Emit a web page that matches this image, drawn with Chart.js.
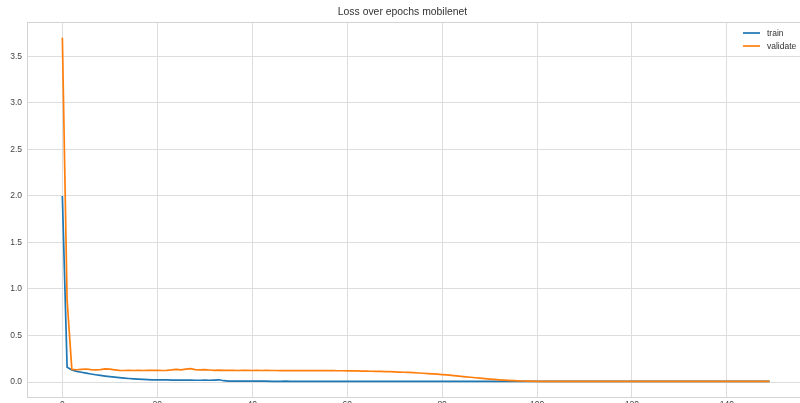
<!DOCTYPE html>
<html>
<head>
<meta charset="utf-8">
<script src="https://cdn.jsdelivr.net/npm/chart.js@4/dist/chart.umd.min.js"></script>
<style>
  html, body { margin: 0; padding: 0; background: #ffffff; overflow: hidden; }
  #wrap { position: absolute; left: 0; top: 0; }
  canvas { display: block; }
</style>
</head>
<body>
<div id="wrap"><canvas id="c" width="815" height="420"></canvas></div>
<script>
// Loss per epoch for the mobilenet run
const trainLoss = [
  2.00, 0.160, 0.130, 0.115, 0.105, 0.095, 0.086, 0.078, 0.071, 0.064,
  0.058, 0.052, 0.047, 0.042, 0.038, 0.034, 0.031, 0.028, 0.026, 0.024,
  0.023, 0.022, 0.022, 0.021, 0.021, 0.020, 0.020, 0.020, 0.019, 0.019,
  0.020, 0.019, 0.021, 0.024, 0.014, 0.010, 0.010, 0.009, 0.009, 0.009,
  0.009, 0.009, 0.009, 0.009, 0.008, 0.008, 0.008, 0.009, 0.008, 0.008,
  0.008, 0.008, 0.008, 0.008, 0.008, 0.008, 0.008, 0.008, 0.008, 0.008,
  0.008, 0.008, 0.008, 0.008, 0.008, 0.008, 0.008, 0.008, 0.008, 0.008,
  0.008, 0.008, 0.008, 0.008, 0.008, 0.008, 0.008, 0.008, 0.008, 0.008,
  0.008, 0.008, 0.008, 0.008, 0.008, 0.008, 0.008, 0.008, 0.008, 0.008,
  0.008, 0.008, 0.008, 0.008, 0.008, 0.008, 0.008, 0.008, 0.008, 0.008,
  0.007, 0.007, 0.007, 0.007, 0.007, 0.007, 0.007, 0.007, 0.007, 0.007,
  0.007, 0.007, 0.007, 0.007, 0.007, 0.007, 0.007, 0.007, 0.007, 0.007,
  0.007, 0.007, 0.007, 0.007, 0.007, 0.007, 0.007, 0.007, 0.007, 0.007,
  0.007, 0.007, 0.007, 0.007, 0.007, 0.007, 0.007, 0.007, 0.007, 0.007,
  0.007, 0.007, 0.007, 0.007, 0.007, 0.007, 0.007, 0.007, 0.007, 0.007
];
const validateLoss = [
  3.70, 0.880, 0.135, 0.132, 0.136, 0.140, 0.134, 0.130, 0.133, 0.141,
  0.138, 0.131, 0.125, 0.124, 0.125, 0.124, 0.125, 0.124, 0.125, 0.126,
  0.125, 0.124, 0.126, 0.130, 0.136, 0.131, 0.138, 0.144, 0.134, 0.130,
  0.133, 0.129, 0.126, 0.128, 0.125, 0.126, 0.125, 0.124, 0.125, 0.125,
  0.124, 0.125, 0.124, 0.125, 0.124, 0.124, 0.123, 0.124, 0.123, 0.124,
  0.123, 0.124, 0.123, 0.123, 0.122, 0.123, 0.122, 0.122, 0.121, 0.121,
  0.120, 0.120, 0.119, 0.118, 0.117, 0.116, 0.115, 0.114, 0.112, 0.111,
  0.109, 0.107, 0.105, 0.103, 0.100, 0.097, 0.094, 0.091, 0.088, 0.084,
  0.080, 0.076, 0.071, 0.066, 0.061, 0.056, 0.051, 0.046, 0.041, 0.036,
  0.032, 0.028, 0.024, 0.020, 0.017, 0.014, 0.012, 0.011, 0.010, 0.009,
  0.008, 0.008, 0.008, 0.008, 0.008, 0.008, 0.008, 0.008, 0.008, 0.008,
  0.008, 0.008, 0.008, 0.008, 0.008, 0.008, 0.008, 0.008, 0.008, 0.008,
  0.008, 0.008, 0.008, 0.008, 0.008, 0.008, 0.008, 0.008, 0.008, 0.008,
  0.008, 0.008, 0.008, 0.008, 0.008, 0.008, 0.008, 0.008, 0.008, 0.008,
  0.008, 0.008, 0.008, 0.008, 0.008, 0.008, 0.008, 0.008, 0.008, 0.008
];
const seriesNames = ['train', 'validate'];
const xTicks = [0, 20, 40, 60, 80, 100, 120, 140];
const yTicks = [0.0, 0.5, 1.0, 1.5, 2.0, 2.5, 3.0, 3.5];
const chartTitle = 'Loss over epochs mobilenet';

const FONT = "'Liberation Sans', Arial, sans-serif";
const GRID = '#dddddd';
const colors = ['#1f77b4', '#ff7f0e'];

const toPoints = arr => arr.map((v, i) => ({ x: i, y: v }));

// axes frame drawn on all four sides
const framePlugin = {
  id: 'frame',
  beforeDatasetsDraw(chart) {
    const { ctx, chartArea: a } = chart;
    ctx.save();
    ctx.strokeStyle = '#d4d4d4';
    ctx.lineWidth = 1;
    ctx.strokeRect(a.left + 0.5, a.top + 0.5, a.right - a.left, a.bottom - a.top);
    ctx.restore();
  }
};

// legend in the upper-right corner of the plot, short line + name
const lineLegend = {
  id: 'lineLegend',
  afterDatasetsDraw(chart) {
    const { ctx } = chart;
    const x0 = 743, len = 17, textX = 767;
    const rows = [33, 46];
    ctx.save();
    ctx.font = '8.5px ' + FONT;
    ctx.textBaseline = 'middle';
    ctx.textAlign = 'left';
    chart.data.datasets.forEach((ds, i) => {
      const y = rows[i];
      ctx.strokeStyle = ds.borderColor;
      ctx.lineWidth = 1.7;
      ctx.beginPath();
      ctx.moveTo(x0, y);
      ctx.lineTo(x0 + len, y);
      ctx.stroke();
      ctx.fillStyle = '#333333';
      ctx.fillText(ds.label, textX, y + 0.5);
    });
    ctx.restore();
  }
};

const ctx = document.getElementById('c').getContext('2d');
new Chart(ctx, {
  type: 'line',
  data: {
    datasets: [
      { label: seriesNames[0], data: toPoints(trainLoss), borderColor: colors[0], order: 1 },
      { label: seriesNames[1], data: toPoints(validateLoss), borderColor: colors[1], order: 0 }
    ]
  },
  options: {
    responsive: false,
    animation: false,
    devicePixelRatio: 1,
    layout: { padding: { left: 0, right: 10, top: 0, bottom: 0 } },
    elements: {
      line: { borderWidth: 1.7, tension: 0, fill: false },
      point: { radius: 0, hoverRadius: 0 }
    },
    plugins: {
      legend: { display: false },
      tooltip: { enabled: false },
      title: {
        display: true,
        text: chartTitle,
        color: '#333333',
        font: { family: FONT, size: 10.4, weight: 'normal' },
        padding: { top: 6.3, bottom: 3.2 }
      }
    },
    scales: {
      x: {
        type: 'linear',
        min: -7.45,
        max: 156.45,
        afterBuildTicks: s => { s.ticks = xTicks.map(v => ({ value: v })); },
        afterFit: s => { s.height = 23; },
        grid: { color: GRID, lineWidth: 1, drawTicks: false },
        border: { display: false },
        ticks: {
          padding: 3,
          color: '#444444',
          font: { family: FONT, size: 8.5 },
          maxRotation: 0,
          autoSkip: false
        }
      },
      y: {
        type: 'linear',
        min: -0.161,
        max: 3.87,
        afterBuildTicks: s => { s.ticks = yTicks.map(v => ({ value: v })); },
        afterFit: s => { s.width = 27; },
        grid: { color: GRID, lineWidth: 1, drawTicks: false },
        border: { display: false },
        ticks: {
          padding: 5,
          color: '#444444',
          font: { family: FONT, size: 8.5 },
          callback: v => Number(v).toFixed(1)
        }
      }
    }
  },
  plugins: [framePlugin, lineLegend]
});
</script>
</body>
</html>
